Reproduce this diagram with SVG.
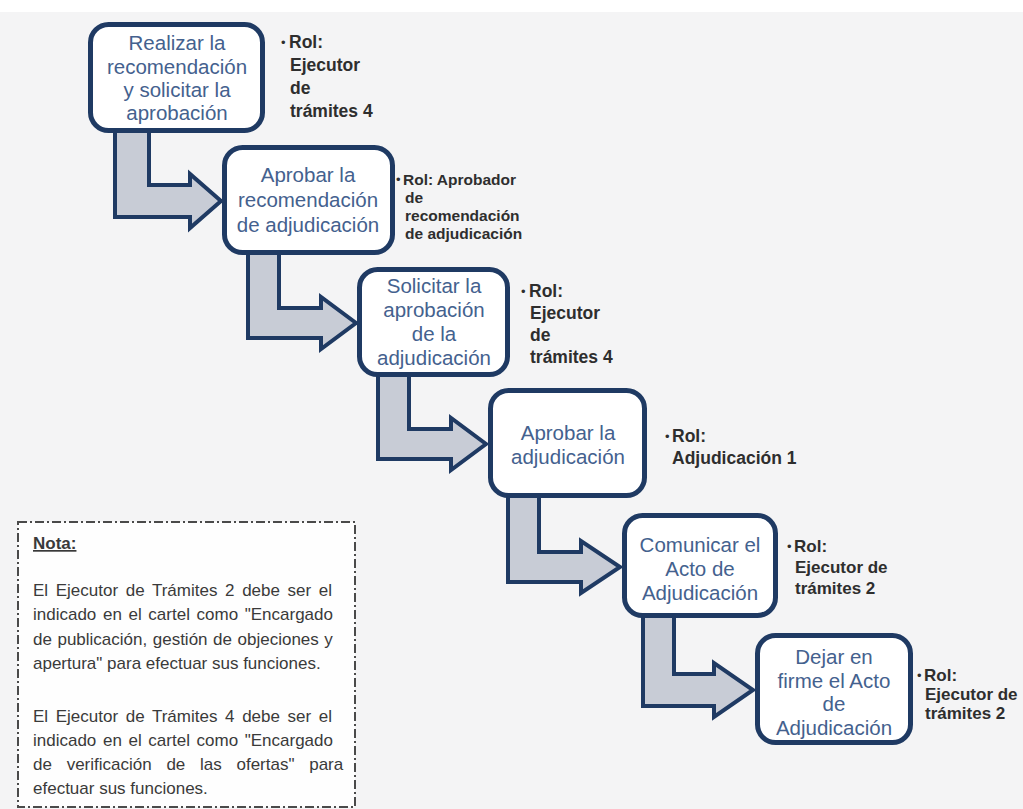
<svg xmlns="http://www.w3.org/2000/svg" width="1023" height="809" viewBox="0 0 1023 809">
  <style>
    .box { fill: #ffffff; stroke: #1f3a63; stroke-width: 5; }
    .boxtxt { font-family: "Liberation Sans", Arial, sans-serif; font-size: 20.5px; fill: #44618e; text-anchor: middle; }
    .role { font-family: "Liberation Sans", Arial, sans-serif; font-size: 17.5px; font-weight: bold; fill: #2e2e2e; }
    .role2 { font-size: 15.5px; }
    .role3 { font-size: 17px; }
    .bul { font-family: "Liberation Sans", Arial, sans-serif; font-size: 13px; fill: #2e2e2e; }
    .arrow { fill: #c8ccd6; stroke: #1f3a63; stroke-width: 4; stroke-linejoin: miter; }
    .note { fill: #fefefe; stroke: #4a4a4a; stroke-width: 2; stroke-dasharray: 9 3 2 3; }
    .notetxt { font-family: "Liberation Sans", Arial, sans-serif; font-size: 17px; fill: #3a3a3a; }
  </style>

  <!-- page background -->
  <rect x="0" y="0" width="1023" height="809" fill="#ffffff"/>
  <rect x="0" y="12" width="1023" height="797" fill="#f4f4f5"/>

  <!-- bent arrows linking consecutive steps -->
  <g id="connectors">
    <path class="arrow" d="M115,128 V217 H190 V228 L221,201 L190,174 V185 H149 V128 Z"/>
    <path class="arrow" d="M248,251 V338 H321 V349 L356,323 L321,297 V308 H279 V251 Z"/>
    <path class="arrow" d="M378,373 V459 H451 V470 L486,444 L451,418 V429 H409 V373 Z"/>
    <path class="arrow" d="M508,494 V582 H581 V593 L620,567 L581,541 V552 H539 V494 Z"/>
    <path class="arrow" d="M643,614 V706 H714 V717 L753,690 L714,663 V674 H674 V614 Z"/>
  </g>

  <g id="step-1">
    <rect class="box" x="90.5" y="24.5" width="172" height="106" rx="18"/>
    <text class="boxtxt" x="177" y="50">Realizar la</text>
    <text class="boxtxt" x="177" y="74">recomendación</text>
    <text class="boxtxt" x="177" y="97">y solicitar la</text>
    <text class="boxtxt" x="177" y="120">aprobación</text>
    <text class="bul" x="281" y="47">•</text>
    <text class="role" x="289" y="48">Rol:</text>
    <text class="role" x="290" y="71">Ejecutor</text>
    <text class="role" x="290" y="94">de</text>
    <text class="role" x="290" y="117">trámites 4</text>
  </g>

  <g id="step-2">
    <rect class="box" x="224.5" y="147.5" width="168" height="105" rx="18"/>
    <text class="boxtxt" x="308" y="182">Aprobar la</text>
    <text class="boxtxt" x="308" y="207">recomendación</text>
    <text class="boxtxt" x="308" y="232">de adjudicación</text>
    <text class="bul" x="396" y="184">•</text>
    <text class="role role2" x="403" y="185">Rol: Aprobador</text>
    <text class="role role2" x="405" y="203">de</text>
    <text class="role role2" x="405" y="221">recomendación</text>
    <text class="role role2" x="405" y="239">de adjudicación</text>
  </g>

  <g id="step-3">
    <rect class="box" x="359.5" y="269.5" width="148" height="105" rx="18"/>
    <text class="boxtxt" x="434" y="293">Solicitar la</text>
    <text class="boxtxt" x="434" y="317">aprobación</text>
    <text class="boxtxt" x="434" y="341">de la</text>
    <text class="boxtxt" x="434" y="365">adjudicación</text>
    <text class="bul" x="521" y="296">•</text>
    <text class="role" x="529" y="297">Rol:</text>
    <text class="role" x="530" y="319">Ejecutor</text>
    <text class="role" x="530" y="341">de</text>
    <text class="role" x="530" y="363">trámites 4</text>
  </g>

  <g id="step-4">
    <rect class="box" x="490.5" y="390.5" width="154" height="105" rx="18"/>
    <text class="boxtxt" x="568" y="440">Aprobar la</text>
    <text class="boxtxt" x="568" y="464">adjudicación</text>
    <text class="bul" x="665" y="441">•</text>
    <text class="role" x="672" y="442">Rol:</text>
    <text class="role" x="672" y="464">Adjudicación 1</text>
  </g>

  <g id="step-5">
    <rect class="box" x="624.5" y="515.5" width="151" height="100" rx="18"/>
    <text class="boxtxt" x="700" y="552">Comunicar el</text>
    <text class="boxtxt" x="700" y="576">Acto de</text>
    <text class="boxtxt" x="700" y="600">Adjudicación</text>
    <text class="bul" x="787" y="551">•</text>
    <text class="role role3" x="794" y="552">Rol:</text>
    <text class="role role3" x="795" y="573">Ejecutor de</text>
    <text class="role role3" x="795" y="594">trámites 2</text>
  </g>

  <g id="step-6">
    <rect class="box" x="757.5" y="635.5" width="153" height="107" rx="18"/>
    <text class="boxtxt" x="834" y="664">Dejar en</text>
    <text class="boxtxt" x="834" y="688">firme el Acto</text>
    <text class="boxtxt" x="834" y="711">de</text>
    <text class="boxtxt" x="834" y="735">Adjudicación</text>
    <text class="bul" x="917" y="680">•</text>
    <text class="role role3" x="924" y="681">Rol:</text>
    <text class="role role3" x="925" y="700">Ejecutor de</text>
    <text class="role role3" x="925" y="719">trámites 2</text>
  </g>

  <g id="note">
    <rect class="note" x="18" y="522" width="337" height="285"/>
    <text class="notetxt" x="33" y="549" font-weight="bold" text-decoration="underline">Nota:</text>
    <text class="notetxt" x="33" y="596" word-spacing="2.9">El Ejecutor de Trámites 2 debe ser el</text>
    <text class="notetxt" x="33" y="620" word-spacing="1.9">indicado en el cartel como "Encargado</text>
    <text class="notetxt" x="33" y="645" word-spacing="0.8">de publicación, gestión de objeciones y</text>
    <text class="notetxt" x="33" y="669">apertura" para efectuar sus funciones.</text>
    <text class="notetxt" x="33" y="722" word-spacing="2.9">El Ejecutor de Trámites 4 debe ser el</text>
    <text class="notetxt" x="33" y="746" word-spacing="1.9">indicado en el cartel como "Encargado</text>
    <text class="notetxt" x="33" y="770" word-spacing="10">de verificación de las ofertas" para</text>
    <text class="notetxt" x="33" y="794">efectuar sus funciones.</text>
  </g>
</svg>
